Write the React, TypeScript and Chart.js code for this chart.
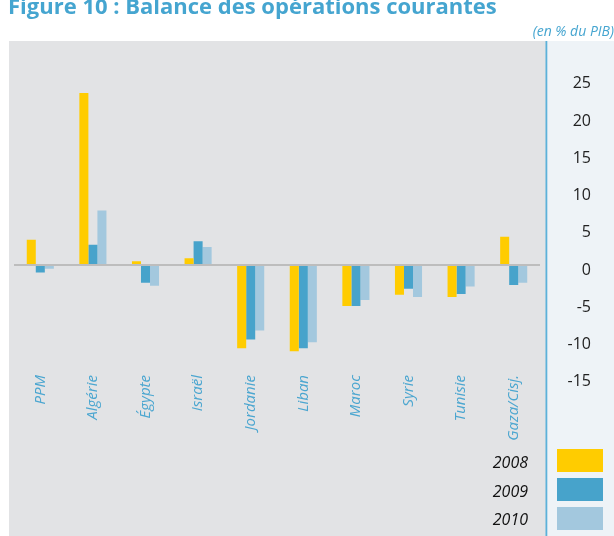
import React, { useEffect, useRef } from "react";
import { Chart, registerables } from "chart.js";

Chart.register(...registerables);

const categories = ["PPM", "Algérie", "Égypte", "Israël", "Jordanie", "Liban", "Maroc", "Syrie", "Tunisie", "Gaza/Cisj."];
const seriesLabels = ["2008", "2009", "2010"];
const values2008 = [3.4, 23.1, 0.5, 0.9, -11.2, -11.6, -5.5, -4.0, -4.3, 3.8];
const values2009 = [-1.0, 2.7, -2.4, 3.2, -10.0, -11.2, -5.5, -3.2, -3.9, -2.7];
const values2010 = [-0.5, 7.3, -2.8, 2.4, -8.8, -10.4, -4.7, -4.3, -2.9, -2.4];
const yTicks = [-15, -10, -5, 0, 5, 10, 15, 20, 25];
const colors = ["#FFCC00", "#47A3CB", "#A3C8DE"];

const TITLE = "Figure 10 : Balance des opérations courantes";
const UNIT = "(en % du PIB)";
const FONT = "'Open Sans', 'Noto Sans', sans-serif";

const bgPlugin = {
  id: "bgPanels",
  beforeDraw(chart: any) {
    const ctx = chart.ctx;
    ctx.save();
    ctx.fillStyle = "#E2E3E5";
    ctx.fillRect(9, 41, 537, 495);
    ctx.fillStyle = "#EEF3F7";
    ctx.fillRect(547, 41, 67, 495);
    ctx.fillStyle = "#5BB1D9";
    ctx.fillRect(545.5, 41, 1.8, 495);
    ctx.restore();
  },
};

const catLabelPlugin = {
  id: "catLabels",
  afterDraw(chart: any) {
    const ctx = chart.ctx;
    const xs = chart.scales.x;
    ctx.save();
    ctx.fillStyle = "#4BA6D0";
    ctx.font = `italic 15px ${FONT}`;
    ctx.textAlign = "right";
    ctx.textBaseline = "middle";
    categories.forEach((c, i) => {
      const x = xs.getPixelForValue(i);
      ctx.save();
      ctx.translate(x, 375);
      ctx.rotate(-Math.PI / 2);
      ctx.fillText(c, 0, 0);
      ctx.restore();
    });
    ctx.restore();
  },
};

export default function App() {
  const ref = useRef<HTMLCanvasElement>(null);
  useEffect(() => {
    const chart = new Chart(ref.current as HTMLCanvasElement, {
      type: "bar",
      data: {
        labels: categories,
        datasets: [values2008, values2009, values2010].map((d, i) => ({
          label: seriesLabels[i],
          data: d,
          backgroundColor: colors[i],
          borderWidth: 0,
          categoryPercentage: 0.515,
          barPercentage: 1,
        })),
      },
      options: {
        animation: false,
        responsive: false,
        maintainAspectRatio: false,
        layout: { padding: { left: 14, right: 23, top: 64, bottom: 159.4 } },
        plugins: { legend: { display: false }, tooltip: { enabled: false } },
        scales: {
          x: { display: false },
          y: {
            position: "right",
            min: -15,
            max: 27,
            afterBuildTicks: (axis: any) => {
              axis.ticks = yTicks.map((v) => ({ value: v }));
            },
            afterFit: (axis: any) => {
              axis.width = 51;
            },
            border: { display: false },
            grid: {
              drawTicks: false,
              color: (c: any) => (c.tick && c.tick.value === 0 ? "#BDBDBD" : "rgba(0,0,0,0)"),
              lineWidth: 2,
            },
            ticks: {
              crossAlign: "far",
              padding: 27,
              labelOffset: 5,
              color: "#222222",
              font: { family: FONT, size: 16 },
            },
          },
        },
      },
      plugins: [bgPlugin, catLabelPlugin],
    } as any);
    return () => chart.destroy();
  }, []);

  return (
    <div style={{ position: "absolute", left: 0, top: 0, width: 614, height: 536, overflow: "hidden", background: "#fff", fontFamily: FONT }}>
      <canvas ref={ref} width={614} height={536} style={{ position: "absolute", left: 0, top: 0, width: 614, height: 536 }} />
      <div style={{ position: "absolute", left: 8, top: -9, fontSize: 22, fontWeight: 700, color: "#45A5D0", whiteSpace: "nowrap", lineHeight: "28px" }}>
        {TITLE}
      </div>
      <div style={{ position: "absolute", right: 0, top: 22, fontSize: 14, fontStyle: "italic", color: "#45A5D0", whiteSpace: "nowrap", lineHeight: "18px" }}>
        {UNIT}
      </div>
      {seriesLabels.map((s, i) => (
        <React.Fragment key={s}>
          <div style={{ position: "absolute", right: 614 - 528, top: 450 + i * 28.5, fontSize: 16, fontStyle: "italic", color: "#111", lineHeight: "24px", textAlign: "right" }}>
            {s}
          </div>
          <div style={{ position: "absolute", left: 557, top: 449 + i * 29, width: 46, height: 23, background: colors[i] }} />
        </React.Fragment>
      ))}
    </div>
  );
}
